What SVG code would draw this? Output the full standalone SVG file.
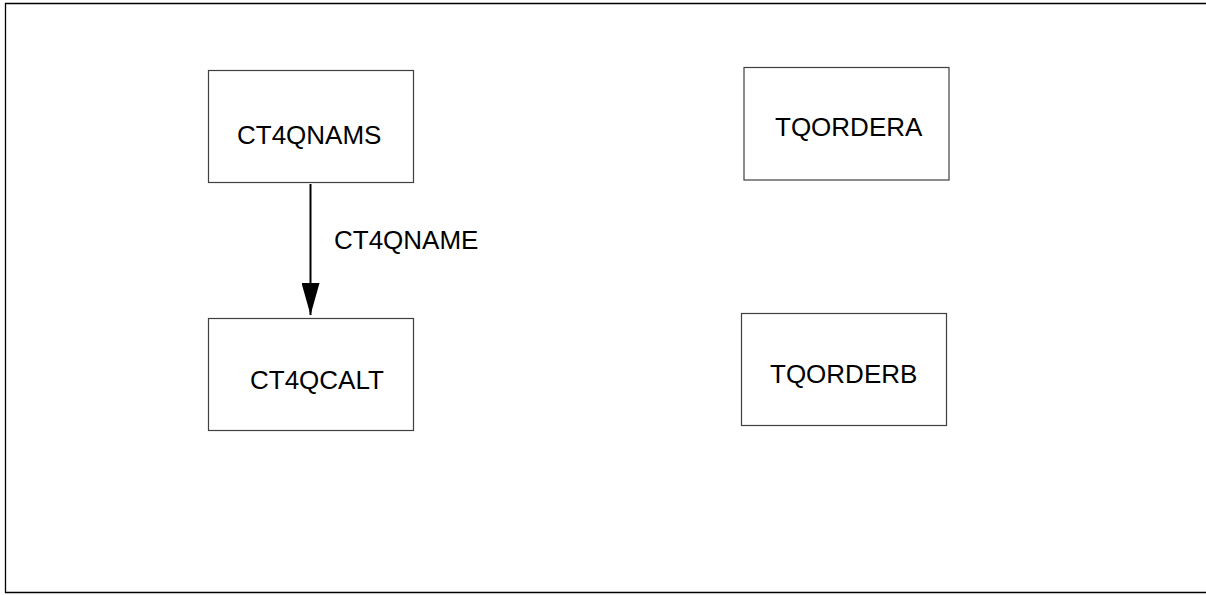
<svg xmlns="http://www.w3.org/2000/svg" width="1206" height="595" viewBox="0 0 1206 595">
<style>
.box{fill:#ffffff;stroke:#404040;stroke-width:1.2}
.lbl{font-family:"Liberation Sans",Arial,sans-serif;font-size:26px;fill:#000}
.edge{stroke:#000;stroke-width:2;fill:none}
</style>
<defs>
<marker id="arr" markerUnits="userSpaceOnUse" markerWidth="32" markerHeight="18" refX="32" refY="9" orient="auto" viewBox="0 0 32 18">
<path d="M0,0 L32,9 L0,18 Z" fill="#000"/>
</marker>
</defs>
<rect width="1206" height="595" fill="#fff"/>
<path d="M1206,3.5 H5.5 V592.5 H1206" fill="none" stroke="#000" stroke-width="1.3"/>
<g id="connectors">
<line class="edge" x1="310.5" y1="184" x2="310.5" y2="315" marker-end="url(#arr)"/>
<text class="lbl" x="334" y="249">CT4QNAME</text>
</g>
<g id="CT4QNAMS">
<rect class="box" x="208.5" y="70.5" width="205" height="112"/>
<text class="lbl" x="237" y="143.5">CT4QNAMS</text>
</g>
<g id="CT4QCALT">
<rect class="box" x="208.5" y="318.5" width="205" height="112"/>
<text class="lbl" x="250" y="388.5">CT4QCALT</text>
</g>
<g id="TQORDERA">
<rect class="box" x="744" y="67.5" width="205" height="112.5"/>
<text class="lbl" x="775" y="136">TQORDERA</text>
</g>
<g id="TQORDERB">
<rect class="box" x="741.5" y="313.5" width="205" height="112"/>
<text class="lbl" x="770" y="382.5">TQORDERB</text>
</g>
</svg>
